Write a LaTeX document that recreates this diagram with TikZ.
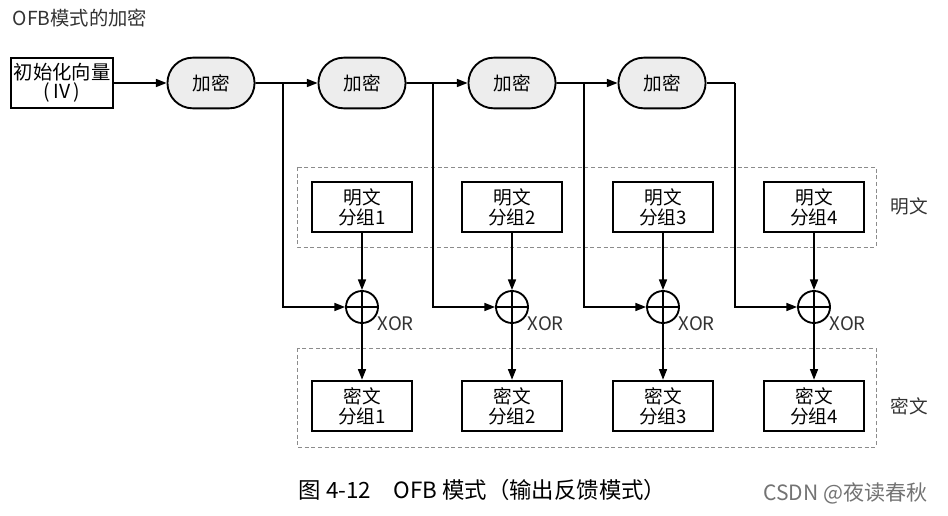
\documentclass[tikz,border=0pt]{standalone}
\usepackage{fontspec}
\setmainfont{Noto Sans CJK SC}
\usetikzlibrary{shapes.misc,arrows.meta}

\begin{document}
\begin{tikzpicture}[x=0.75pt,y=-0.75pt,
    enc_node/.style={rounded rectangle,draw,line width=1.4pt,fill=black!7,minimum width=72pt,minimum height=38pt,font=\fontsize{14}{15}\selectfont},
    box_node/.style={rectangle,draw,line width=1.4pt,minimum width=75pt,minimum height=38pt,inner sep=1pt,align=center,font=\fontsize{14}{15}\selectfont},
    xor_node/.style={circle,draw,line width=1.4pt,minimum size=24pt,inner sep=0pt},
    group_box/.style={draw=black!45,dashed,dash pattern=on 3pt off 2pt,line width=0.5pt},
    flow/.style={line width=1.2pt,-{Triangle[length=8pt,width=6pt]}},
    plain_line/.style={line width=1.2pt},
    lbl/.style={font=\fontsize{14}{15}\selectfont,text=black!80}]

    \useasboundingbox (0,0) rectangle (948,516);

    \node[lbl,anchor=west,font=\fontsize{14.5}{16}\selectfont] (title) at (8,18) {OFB模式的加密};

    % dashed groups
    \draw[group_box] (297,167) rectangle (876,247);
    \draw[group_box] (297,348) rectangle (876,447);
    \node[lbl] (ptlabel) at (909,206) {明文};
    \node[lbl] (ctlabel) at (909,406) {密文};

    % IV and encryptions
    \node[box_node,minimum width=76pt,font=\fontsize{14.5}{14.5}\selectfont] (iv) at (62,83) {初始化向量\\(\,IV\,)};
    \node[enc_node] (e1) at (211,83) {加密};
    \node[enc_node] (e2) at (362,83) {加密};
    \node[enc_node] (e3) at (512,83) {加密};
    \node[enc_node] (e4) at (662,83) {加密};

    \coordinate (j1) at (283,83);
    \coordinate (j2) at (433,83);
    \coordinate (j3) at (584,83);
    \coordinate (j4) at (735,83);

    % plaintext blocks
    \node[box_node] (p1) at (362,207) {明文\\分组1};
    \node[box_node] (p2) at (512,207) {明文\\分组2};
    \node[box_node] (p3) at (663,207) {明文\\分组3};
    \node[box_node] (p4) at (814,207) {明文\\分组4};

    % xor
    \node[xor_node] (x1) at (362,307) {};
    \node[xor_node] (x2) at (512,307) {};
    \node[xor_node] (x3) at (663,307) {};
    \node[xor_node] (x4) at (814,307) {};
    \node[lbl,anchor=west] (xl1) at (373,324) {XOR};
    \node[lbl,anchor=west] (xl2) at (523,324) {XOR};
    \node[lbl,anchor=west] (xl3) at (674,324) {XOR};
    \node[lbl,anchor=west] (xl4) at (825,324) {XOR};

    % ciphertext blocks
    \node[box_node] (c1) at (362,406) {密文\\分组1};
    \node[box_node] (c2) at (512,406) {密文\\分组2};
    \node[box_node] (c3) at (663,406) {密文\\分组3};
    \node[box_node] (c4) at (814,406) {密文\\分组4};

    \draw[flow] (iv) -- (e1);
    \draw[flow] (e1) -- (e2);
    \draw[flow] (e2) -- (e3);
    \draw[flow] (e3) -- (e4);
    \draw[plain_line] (e4.east) -- (j4);

    \draw[flow] (j1) |- (x1.west);
    \draw[flow] (j2) |- (x2.west);
    \draw[flow] (j3) |- (x3.west);
    \draw[flow] (j4) |- (x4.west);

    \draw[flow] (p1) -- (x1.north);
    \draw[flow] (p2) -- (x2.north);
    \draw[flow] (p3) -- (x3.north);
    \draw[flow] (p4) -- (x4.north);

    \draw[flow] (x1.south) -- (c1);
    \draw[flow] (x2.south) -- (c2);
    \draw[flow] (x3.south) -- (c3);
    \draw[flow] (x4.south) -- (c4);

    \draw[plain_line] (x1.north) -- (x1.south) (x1.west) -- (x1.east);
    \draw[plain_line] (x2.north) -- (x2.south) (x2.west) -- (x2.east);
    \draw[plain_line] (x3.north) -- (x3.south) (x3.west) -- (x3.east);
    \draw[plain_line] (x4.north) -- (x4.south) (x4.west) -- (x4.east);

    % caption
    \node[anchor=west,font=\fontsize{16.8}{18}\selectfont] (caption) at (294,490) {图 4-12\quad OFB 模式（输出反馈模式）};
    \node[anchor=east,font=\fontsize{15.8}{17}\selectfont,text=black!55] (mark) at (932,493) {CSDN @夜读春秋};
\end{tikzpicture}
\end{document}
